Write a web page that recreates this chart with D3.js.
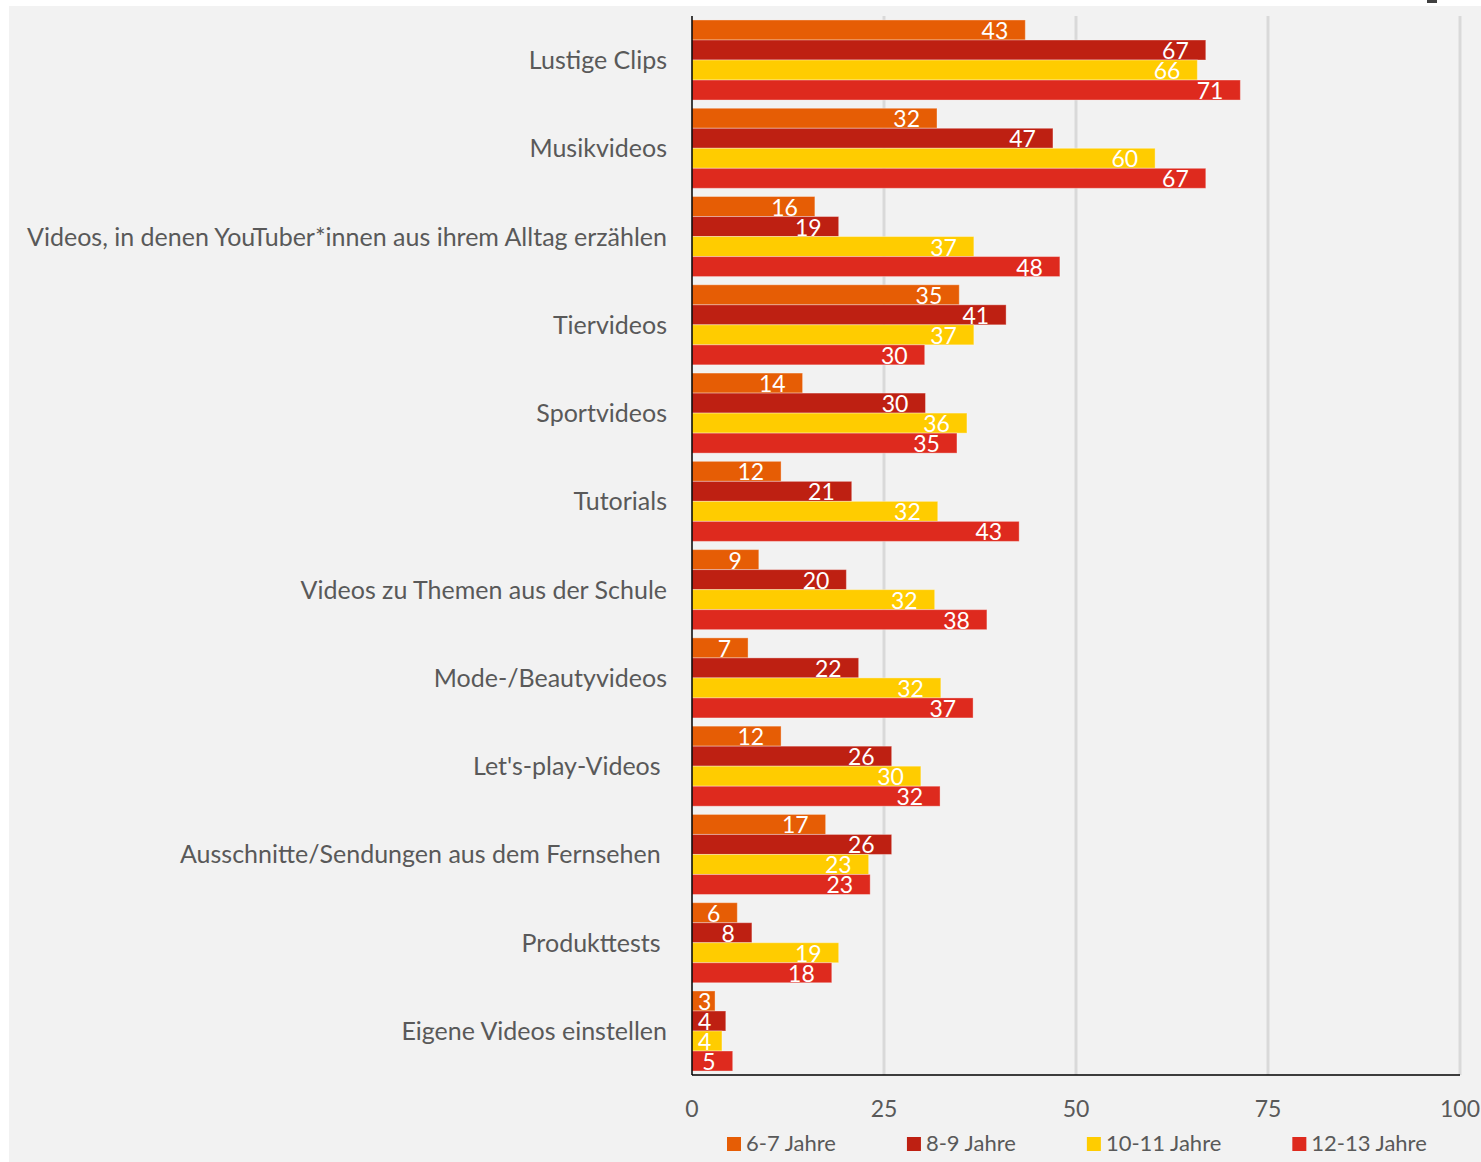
<!DOCTYPE html>
<html>
<head>
<meta charset="utf-8">
<script src="https://cdn.jsdelivr.net/npm/d3@7"></script>
<style>
  body { margin: 0; background: #fff; }
  text { font-family: Lato, "Open Sans", sans-serif; fill: #595959; }
</style>
</head>
<body>
<script>
// Daten
const categories = [
  "Lustige Clips",
  "Musikvideos",
  "Videos, in denen YouTuber*innen aus ihrem Alltag erzählen",
  "Tiervideos",
  "Sportvideos",
  "Tutorials",
  "Videos zu Themen aus der Schule",
  "Mode-/Beautyvideos",
  "Let's-play-Videos ",
  "Ausschnitte/Sendungen aus dem Fernsehen ",
  "Produkttests ",
  "Eigene Videos einstellen"
]
const seriesNames = ["6-7 Jahre", "8-9 Jahre", "10-11 Jahre", "12-13 Jahre"]
const colors = ["#e65d05", "#be2012", "#ffcc00", "#de2a1e"]

const jahre67 = [43.4, 31.9, 16.0, 34.8, 14.4, 11.6, 8.7, 7.3, 11.6, 17.4, 5.9, 3.0]
const jahre89 = [66.9, 47.0, 19.1, 40.9, 30.4, 20.8, 20.1, 21.7, 26.0, 26.0, 7.8, 4.4]
const jahre1011 = [65.8, 60.3, 36.7, 36.7, 35.8, 32.0, 31.6, 32.4, 29.8, 23.0, 19.1, 3.9]
const jahre1213 = [71.4, 66.9, 47.9, 30.3, 34.5, 42.6, 38.4, 36.6, 32.3, 23.2, 18.2, 5.3]
const series = [jahre67, jahre89, jahre1011, jahre1213]

const ticks = [0, 25, 50, 75, 100]

// svg
const W = 1481, H = 1162
const svg = d3.select("body").append("svg").attr("width", W).attr("height", H)

svg.append("rect").attr("x", 9).attr("y", 6).attr("width", W - 9).attr("height", H - 6).attr("fill", "#f2f2f2")
svg.append("rect").attr("x", 1427).attr("y", 0).attr("width", 10).attr("height", 3).attr("fill", "#404040")

const plotLeft = 692, plotRight = 1460, plotTop = 16, plotBottom = 1075

const x = d3.scaleLinear().domain([0, 100]).range([plotLeft, plotRight])
const y = d3.scaleBand().domain(categories).range([plotTop, plotBottom]).paddingInner(0.093).paddingOuter(0.045)
const ySub = d3.scaleBand().domain(d3.range(4)).range([0, y.bandwidth()])

// gridlines
svg.append("g").selectAll("line")
  .data(ticks.slice(1))
  .enter().append("line")
    .attr("x1", d => x(d)).attr("x2", d => x(d))
    .attr("y1", plotTop).attr("y2", plotBottom)
    .attr("stroke", "#d9d9d9").attr("stroke-width", 3)

// bars
const groups = svg.append("g").selectAll("g")
  .data(categories)
  .enter().append("g")
    .attr("transform", d => "translate(0," + y(d) + ")")

const fmt = d3.format(".0f")

groups.each(function (cat, ci) {
  const g = d3.select(this)
  series.forEach((s, si) => {
    const v = s[ci]
    g.append("rect")
      .attr("x", x(0))
      .attr("y", ySub(si))
      .attr("width", x(v) - x(0))
      .attr("height", ySub.bandwidth())
      .attr("fill", colors[si])
      .attr("stroke", "rgba(255,255,255,0.35)")
      .attr("stroke-width", 1)
    const t = g.append("text")
      .attr("y", ySub(si) + ySub.bandwidth() / 2 + 9)
      .attr("text-anchor", "end")
      .style("font-size", "23px")
      .style("fill", "#fff")
      .text(fmt(v))
    const tw = t.node().getComputedTextLength()
    t.attr("x", Math.max(x(v) - 17, x(0) + 6 + tw))
  })
})

// category labels
svg.append("g").selectAll("text")
  .data(categories)
  .enter().append("text")
    .attr("x", 667)
    .attr("y", d => y(d) + y.bandwidth() / 2 + 9)
    .attr("text-anchor", "end")
    .style("white-space", "pre")
    .style("font-size", "25px")
    .text(d => d)

// axes lines
svg.append("line").attr("x1", plotLeft).attr("x2", plotLeft).attr("y1", plotTop).attr("y2", plotBottom)
  .attr("stroke", "#000").attr("stroke-width", 1.5)
svg.append("line").attr("x1", plotLeft).attr("x2", plotRight).attr("y1", plotBottom).attr("y2", plotBottom)
  .attr("stroke", "#000").attr("stroke-width", 1.5)

// tick labels
svg.append("g").selectAll("text")
  .data(ticks)
  .enter().append("text")
    .attr("x", d => x(d))
    .attr("y", 1117)
    .attr("text-anchor", "middle")
    .style("font-size", "23px")
    .text(d => d)

// legend
const legend = svg.append("g")
let lx = 727
seriesNames.forEach((name, i) => {
  legend.append("rect").attr("x", lx).attr("y", 1137).attr("width", 14).attr("height", 14).attr("fill", colors[i])
  const t = legend.append("text").attr("x", lx + 19).attr("y", 1151).style("font-size", "22px").text(name)
  lx += 19 + t.node().getComputedTextLength() + 71
})
</script>
</body>
</html>
